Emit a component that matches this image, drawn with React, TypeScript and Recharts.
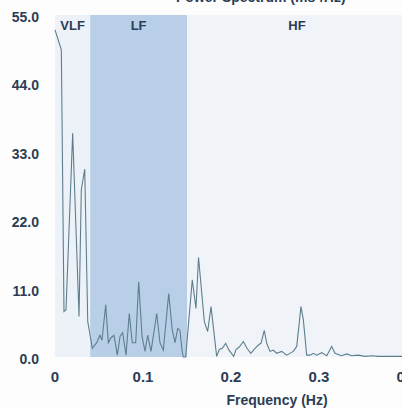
import { Line, LineChart, ReferenceArea, XAxis, YAxis } from "recharts";

const FREQ = [
  0.0, 0.0072, 0.0102, 0.0125, 0.0201, 0.0273, 0.0299, 0.0338, 0.0372, 0.0424,
  0.0474, 0.0511, 0.0534, 0.0576, 0.0606, 0.0636, 0.067, 0.0708, 0.0739, 0.0769,
  0.0807, 0.0844, 0.0878, 0.0917, 0.0951, 0.0989, 0.1023, 0.1053, 0.1091, 0.1156,
  0.1193, 0.1231, 0.1292, 0.1333, 0.1364, 0.1394, 0.142, 0.1443, 0.1458, 0.1485,
  0.156, 0.1602, 0.1631, 0.1697, 0.1735, 0.1773, 0.1837, 0.1867, 0.1901, 0.194,
  0.1977, 0.2031, 0.2057, 0.2094, 0.214, 0.2182, 0.2224, 0.2273, 0.2318, 0.2341,
  0.2378, 0.2406, 0.2443, 0.2481, 0.2519, 0.2576, 0.2633, 0.2708, 0.2747, 0.2795,
  0.2822, 0.286, 0.2898, 0.2935, 0.2974, 0.3031, 0.3088, 0.3144, 0.3182, 0.3219,
  0.3258, 0.3315, 0.3372, 0.3447, 0.3523, 0.3599, 0.3674, 0.375, 0.3826, 0.394,
  0.4,
];

const POWER = [
  52.6, 49.4, 7.3, 7.6, 36.0, 6.5, 26.9, 30.2, 5.7, 1.4,
  2.3, 3.5, 2.7, 8.4, 2.3, 3.1, 3.5, 0.3, 3.3, 3.9,
  0.3, 7.0, 2.3, 2.3, 12.1, 3.3, 0.9, 3.5, 0.9, 7.0,
  2.3, 1.1, 10.2, 4.3, 2.3, 4.6, 4.3, 1.1, 0.0, 0.0,
  12.4, 7.8, 16.0, 5.7, 4.1, 8.1, 0.1, 1.2, 1.4, 2.2,
  1.1, 0.1, 1.2, 1.6, 2.5, 1.4, 0.6, 1.4, 2.0, 2.2,
  4.3, 2.2, 0.9, 1.1, 0.6, 0.9, 0.3, 0.9, 1.7, 8.1,
  6.0, 0.3, 0.3, 0.6, 0.3, 0.7, 0.2, 1.7, 0.6, 0.4,
  0.2, 0.5, 0.2, 0.3, 0.1, 0.2, 0.1, 0.1, 0.1, 0.1,
  0.1,
];

const X_TICKS = [0, 0.1, 0.2, 0.3, 0.4];
const Y_TICKS = [0, 11, 22, 33, 44, 55];

const BANDS = [
  { name: "VLF", from: 0, to: 0.04, fill: "#edf2f8" },
  { name: "LF", from: 0.04, to: 0.15, fill: "#b8cfe7" },
  { name: "HF", from: 0.15, to: 0.4, fill: "#f0f4f9" },
];

const INK = "#2b3d55";
const FONT = "'Liberation Sans', Arial, sans-serif";

export default function App() {
  const data = FREQ.map((f, i) => ({ f, p: POWER[i] }));

  return (
    <div
      style={{
        position: "fixed",
        left: 0,
        top: 0,
        width: 402,
        height: 409,
        overflow: "hidden",
        background: "#fdfdfd",
        fontFamily: FONT,
      }}
    >
      <div
        style={{
          position: "absolute",
          left: 176,
          top: -11,
          fontSize: 14,
          fontWeight: 700,
          color: INK,
          whiteSpace: "nowrap",
        }}
      >
        Power Spectrum (ms²/Hz)
      </div>
      <LineChart width={430} height={409} data={data} margin={{ top: 15, right: 23, bottom: 0, left: 0 }}>
        {BANDS.map((b) => (
          <ReferenceArea
            key={b.name}
            x1={b.from}
            x2={b.to}
            y1={0}
            y2={55}
            fill={b.fill}
            fillOpacity={1}
            stroke="none"
            ifOverflow="visible"
            label={{
              value: b.name,
              position: "insideTop",
              offset: 6,
              fill: INK,
              fontSize: 13,
              fontWeight: 700,
              fontFamily: FONT,
            }}
          />
        ))}
        <XAxis
          type="number"
          dataKey="f"
          domain={[0, 0.4]}
          ticks={X_TICKS}
          tickFormatter={(v: number) => (v === 0 ? "0" : v.toFixed(1))}
          axisLine={false}
          tickLine={false}
          tickSize={0}
          tickMargin={14}
          height={52}
          tick={{ fill: INK, fontSize: 15, fontWeight: 700, fontFamily: FONT }}
          label={{
            value: "Frequency (Hz)",
            position: "insideBottom",
            offset: 4,
            dx: 46,
            fill: INK,
            fontSize: 14,
            fontWeight: 700,
            fontFamily: FONT,
          }}
        />
        <YAxis
          type="number"
          domain={[0, 55]}
          ticks={Y_TICKS}
          tickFormatter={(v: number) => v.toFixed(1)}
          axisLine={false}
          tickLine={false}
          tickSize={0}
          tickMargin={16}
          width={55}
          tick={{ fill: INK, fontSize: 14, fontWeight: 700, fontFamily: FONT, dy: 2 }}
        />
        <Line
          type="linear"
          dataKey="p"
          stroke="#5e7e8e"
          strokeWidth={1.1}
          dot={false}
          isAnimationActive={false}
        />
      </LineChart>
    </div>
  );
}
